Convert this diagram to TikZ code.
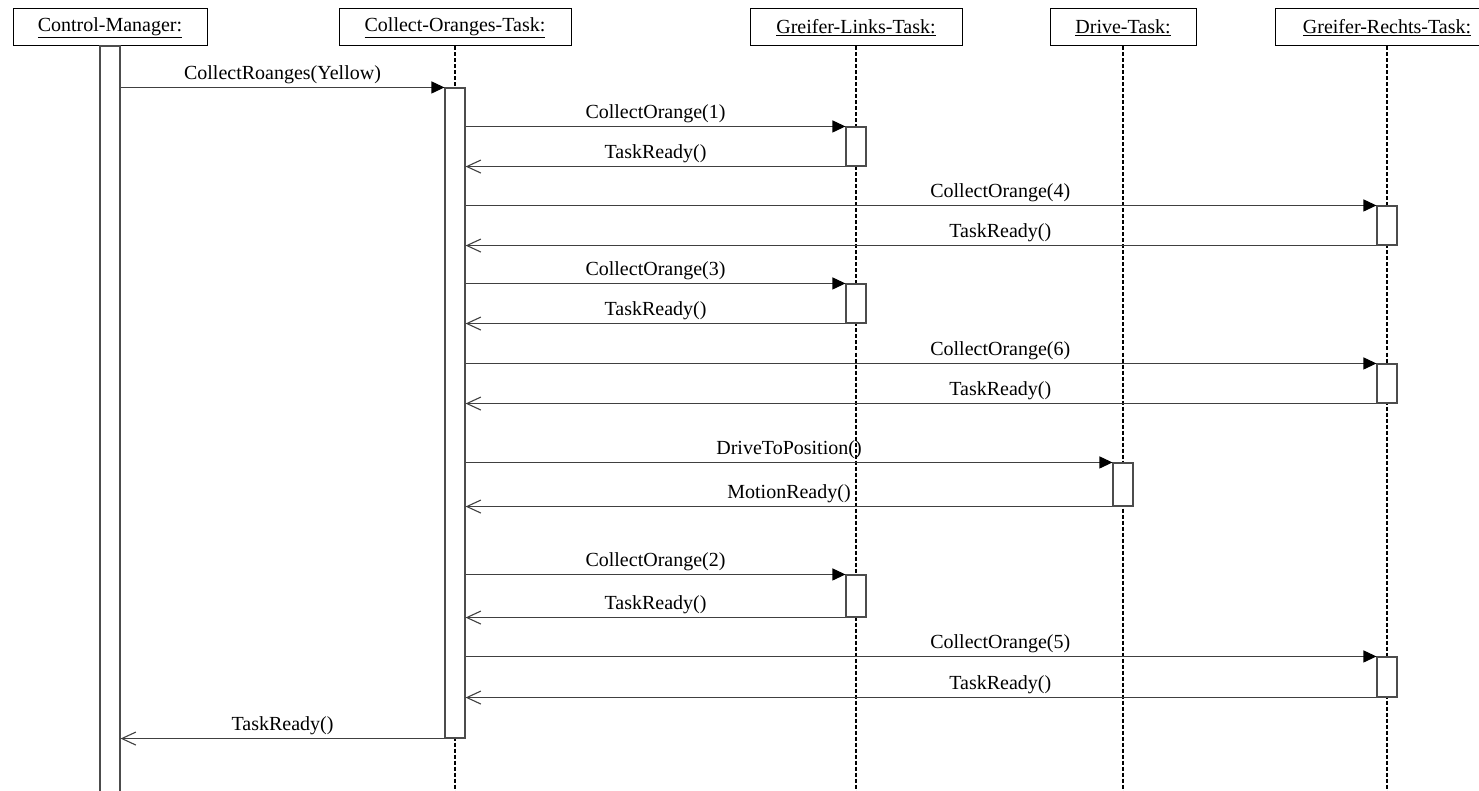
\documentclass[tikz,border=0pt]{standalone}
\usepackage{fontspec}
\setmainfont{Liberation Serif}
\usetikzlibrary{arrows.meta,positioning}
\tikzset{
    lifebox/.style={
        draw=black,line width=1pt,minimum height=37pt,inner sep=0pt,
        font=\fontsize{20}{24}\selectfont
    },
    actbar/.style={
        draw=black!70,fill=white,line width=1.1pt,minimum width=20pt,inner sep=0pt
    },
    lifeline/.style={
        draw=black,line width=1.2pt,dash pattern=on 4pt off 2pt
    },
    call/.style={
        -{Triangle[length=13pt,width=12pt,black]},draw=black!75,line width=1.1pt
    },
    reply/.style={
        -{Straight Barb[length=14pt,width=13pt]},draw=black!75,line width=1.1pt
    },
    msg/.style={
        font=\fontsize{20}{24}\selectfont,above,inner sep=3pt,text=black
    }
}

\begin{document}
\begin{tikzpicture}[x=1pt,y=-1pt]

\useasboundingbox (0,0) rectangle (1479,791);

% object heads
\node[lifebox,minimum width=194pt] (cm) at (110,27.5) {\underline{Control-Manager:}};
\node[lifebox,minimum width=232pt] (cot) at (455,27.5) {\underline{Collect-Oranges-Task:}};
\node[lifebox,minimum width=212pt] (glt) at (856,27.5) {\underline{Greifer-Links-Task:}};
\node[lifebox,minimum width=146pt] (dt) at (1123,27.5) {\underline{Drive-Task:}};
\node[lifebox,minimum width=224pt] (grt) at (1387,27.5) {\underline{Greifer-Rechts-Task:}};

% lifelines
\coordinate (cotend) at (455,791);
\coordinate (gltend) at (856,791);
\coordinate (dtend) at (1123,791);
\coordinate (grtend) at (1387,791);
\draw[lifeline] (cot.south) -- (cotend);
\draw[lifeline] (glt.south) -- (gltend);
\draw[lifeline] (dt.south) -- (dtend);
\draw[lifeline] (grt.south) -- (grtend);

% activations
\node[actbar,minimum height=760pt] (cmbar) at (110,426) {};
\node[actbar,minimum height=650pt] (cobar) at (455,413) {};
\node[actbar,minimum height=39pt] (gl1) at (856,146.5) {};
\node[actbar,minimum height=39pt] (gr4) at (1387,225.5) {};
\node[actbar,minimum height=39pt] (gl3) at (856,303.5) {};
\node[actbar,minimum height=39pt] (gr6) at (1387,383.5) {};
\node[actbar,minimum height=43pt] (drv) at (1123,484.5) {};
\node[actbar,minimum height=42pt] (gl2) at (856,596) {};
\node[actbar,minimum height=40pt] (gr5) at (1387,677) {};

% messages
\draw[call] (cmbar.east |- cobar.north) -- node[msg] {CollectRoanges(Yellow)} (cobar.north west);

\draw[call] (cobar.east |- gl1.north) -- node[msg] {CollectOrange(1)} (gl1.north west);
\draw[reply] (gl1.south west) -- node[msg] {TaskReady()} (cobar.east |- gl1.south);

\draw[call] (cobar.east |- gr4.north) -- node[msg,pos=0.587] {CollectOrange(4)} (gr4.north west);
\draw[reply] (gr4.south west) -- node[msg,pos=0.413] {TaskReady()} (cobar.east |- gr4.south);

\draw[call] (cobar.east |- gl3.north) -- node[msg] {CollectOrange(3)} (gl3.north west);
\draw[reply] (gl3.south west) -- node[msg] {TaskReady()} (cobar.east |- gl3.south);

\draw[call] (cobar.east |- gr6.north) -- node[msg,pos=0.587] {CollectOrange(6)} (gr6.north west);
\draw[reply] (gr6.south west) -- node[msg,pos=0.413] {TaskReady()} (cobar.east |- gr6.south);

\draw[call] (cobar.east |- drv.north) -- node[msg] {DriveToPosition()} (drv.north west);
\draw[reply] (drv.south west) -- node[msg] {MotionReady()} (cobar.east |- drv.south);

\draw[call] (cobar.east |- gl2.north) -- node[msg] {CollectOrange(2)} (gl2.north west);
\draw[reply] (gl2.south west) -- node[msg] {TaskReady()} (cobar.east |- gl2.south);

\draw[call] (cobar.east |- gr5.north) -- node[msg,pos=0.587] {CollectOrange(5)} (gr5.north west);
\draw[reply] (gr5.south west) -- node[msg,pos=0.413] {TaskReady()} (cobar.east |- gr5.south);

\draw[reply] (cobar.south west) -- node[msg] {TaskReady()} (cmbar.east |- cobar.south);

\end{tikzpicture}
\end{document}
